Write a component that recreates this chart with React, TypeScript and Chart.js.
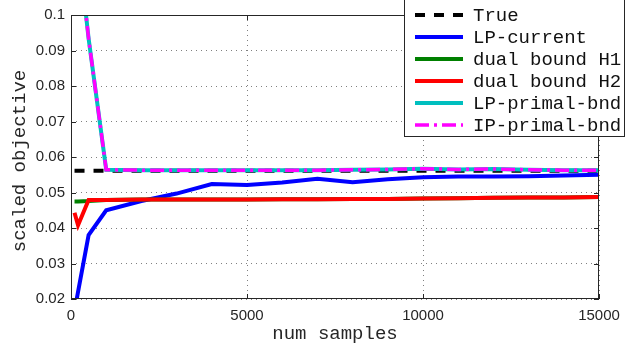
import React, { useEffect, useRef } from "react";
import { Chart, registerables } from "chart.js";

Chart.register(...registerables);

// ---- data ----
const numSamples = [100, 200, 500, 1000, 2000, 3000, 4000, 5000, 6000, 7000, 8000, 9000, 10000, 11000, 12000, 13000, 14000, 15000];
const trueVals = [0.0561, 0.0561, 0.0561, 0.0561, 0.0561, 0.0561, 0.0561, 0.0561, 0.0561, 0.0561, 0.0561, 0.0561, 0.0561, 0.0561, 0.0561, 0.0561, 0.0561, 0.0561];
const lpCurrent = [0.0166, 0.022, 0.038, 0.045, 0.0476, 0.0497, 0.0524, 0.0521, 0.0528, 0.0539, 0.0529, 0.0537, 0.0543, 0.0545, 0.0545, 0.0546, 0.0548, 0.055];
const dualH1 = [0.0475, 0.0475, 0.0476, 0.0479, 0.048, 0.048, 0.048, 0.048, 0.0481, 0.0481, 0.0482, 0.0482, 0.0483, 0.0484, 0.0485, 0.0486, 0.0486, 0.0487];
const dualH2 = [0.0443, 0.0408, 0.0479, 0.0479, 0.048, 0.048, 0.048, 0.048, 0.0481, 0.0481, 0.0482, 0.0482, 0.0483, 0.0484, 0.0485, 0.0486, 0.0486, 0.0487];
const lpPrimal = [0.15, 0.12, 0.0934, 0.0564, 0.0563, 0.0563, 0.0563, 0.0563, 0.0563, 0.0563, 0.0564, 0.0565, 0.0567, 0.0565, 0.0566, 0.0564, 0.0563, 0.0563];
const ipPrimal = [0.15, 0.12, 0.0934, 0.0564, 0.0563, 0.0563, 0.0563, 0.0563, 0.0563, 0.0563, 0.0564, 0.0565, 0.0567, 0.0565, 0.0566, 0.0564, 0.0563, 0.0563];

const seriesLabels = ["True", "LP-current", "dual bound H1", "dual bound H2", "LP-primal-bnd", "IP-primal-bnd"];
const xTickValues = [0, 5000, 10000, 15000];
const yTickValues = [0.02, 0.03, 0.04, 0.05, 0.06, 0.07, 0.08, 0.09, 0.1];
const xAxisTitle = "num samples";
const yAxisTitle = "scaled objective";

const MONO = "'Liberation Mono', 'DejaVu Sans Mono', monospace";
const SANS = "'Liberation Sans', Arial, sans-serif";
const AXIS_COLOR = "#262626";

const toPoints = (ys: number[]) => ys.map((y, i) => ({ x: numSamples[i], y }));

const decorPlugin = {
  id: "decor",
  afterDraw(chart: any) {
    const { ctx, chartArea: a } = chart;
    const xs = chart.scales.x;
    const ys = chart.scales.y;
    ctx.save();
    // frame
    ctx.strokeStyle = AXIS_COLOR;
    ctx.lineWidth = 1;
    ctx.setLineDash([]);
    ctx.strokeRect(a.left + 0.5, a.top + 0.5, a.right - a.left - 1, a.bottom - a.top - 1);
    // inward ticks
    const tl = 5;
    ctx.beginPath();
    xTickValues.forEach((v) => {
      const px = Math.round(xs.getPixelForValue(v)) + 0.5;
      ctx.moveTo(px, a.bottom);
      ctx.lineTo(px, a.bottom - tl);
      ctx.moveTo(px, a.top);
      ctx.lineTo(px, a.top + tl);
    });
    yTickValues.forEach((v) => {
      const py = Math.round(ys.getPixelForValue(v)) + 0.5;
      ctx.moveTo(a.left, py);
      ctx.lineTo(a.left + tl, py);
      ctx.moveTo(a.right, py);
      ctx.lineTo(a.right - tl, py);
    });
    ctx.stroke();

    // axis titles
    ctx.fillStyle = AXIS_COLOR;
    ctx.font = `19px ${MONO}`;
    ctx.textAlign = "center";
    ctx.textBaseline = "alphabetic";
    ctx.fillText(xAxisTitle, (a.left + a.right) / 2, 339);
    ctx.save();
    ctx.translate(25, 161);
    ctx.rotate(-Math.PI / 2);
    ctx.fillText(yAxisTitle, 0, 0);
    ctx.restore();

    // legend
    const lx0 = 404.5, lx1 = 624.5, ly0 = -0.5, ly1 = 136.5;
    ctx.fillStyle = "#ffffff";
    ctx.fillRect(lx0, ly0, lx1 - lx0, ly1 - ly0);
    ctx.strokeStyle = AXIS_COLOR;
    ctx.lineWidth = 1;
    ctx.strokeRect(lx0, ly0, lx1 - lx0, ly1 - ly0);
    const dsets = chart.data.datasets;
    dsets.forEach((ds: any, i: number) => {
      const cy = 15 + i * 22;
      ctx.save();
      ctx.strokeStyle = ds.borderColor;
      ctx.lineWidth = ds.borderWidth;
      ctx.setLineDash(ds.borderDash || []);
      ctx.lineCap = "butt";
      ctx.beginPath();
      ctx.moveTo(415, cy);
      ctx.lineTo(463, cy);
      ctx.stroke();
      ctx.restore();
      ctx.fillStyle = "#111111";
      ctx.font = `19px ${MONO}`;
      ctx.textAlign = "left";
      ctx.textBaseline = "middle";
      ctx.fillText(ds.label, 473, cy + 1);
    });
    ctx.restore();
  },
};

export default function App() {
  const canvasRef = useRef<HTMLCanvasElement | null>(null);

  useEffect(() => {
    const canvas = canvasRef.current;
    if (!canvas) return;
    const colors = ["#000000", "#0000ff", "#008000", "#ff0000", "#00bfbf", "#ff00ff"];
    const dashes: number[][] = [[10, 9], [], [], [], [], [14, 5, 3, 5]];
    const widths = [4, 4, 4, 4, 4, 3.5];
    const values = [trueVals, lpCurrent, dualH1, dualH2, lpPrimal, ipPrimal];
    const datasets = values.map((vals, i) => ({
      label: seriesLabels[i],
      data: toPoints(vals),
      borderColor: colors[i],
      backgroundColor: colors[i],
      borderWidth: widths[i],
      borderDash: dashes[i],
      pointRadius: 0,
      tension: 0,
      fill: false,
      clip: 0,
      order: 6 - i,
    }));

    const chart = new Chart(canvas, {
      type: "line",
      data: { datasets },
      options: {
        animation: false,
        responsive: false,
        devicePixelRatio: 1,
        layout: { padding: { top: 7, right: 42, left: 0, bottom: 0 } },
        plugins: { legend: { display: false }, tooltip: { enabled: false } },
        scales: {
          x: {
            type: "linear",
            min: 0,
            max: 15000,
            afterFit: (s: any) => { s.height = 50; },
            afterBuildTicks: (s: any) => { s.ticks = xTickValues.map((v) => ({ value: v })); },
            ticks: {
              color: AXIS_COLOR,
              font: { family: SANS, size: 15 },
              padding: 8,
              maxRotation: 0,
              callback: (v: any) => String(v),
            },
            grid: { color: "#808080", lineWidth: 1, drawTicks: false },
            border: { display: false, dash: [1, 4] },
          },
          y: {
            type: "linear",
            min: 0.02,
            max: 0.1,
            afterFit: (s: any) => { s.width = 71; },
            afterBuildTicks: (s: any) => { s.ticks = yTickValues.map((v) => ({ value: v })); },
            ticks: {
              color: AXIS_COLOR,
              font: { family: SANS, size: 15 },
              padding: 6,
              callback: (v: any) => String(Number(Number(v).toFixed(2))),
            },
            grid: { color: "#808080", lineWidth: 1, drawTicks: false },
            border: { display: false, dash: [1, 4] },
          },
        },
      },
      plugins: [decorPlugin],
    });
    return () => chart.destroy();
  }, []);

  return (
    <div style={{ position: "absolute", left: 0, top: 0, width: 641, height: 349, background: "#ffffff" }}>
      <canvas ref={canvasRef} width={641} height={349} style={{ display: "block" }} />
    </div>
  );
}
